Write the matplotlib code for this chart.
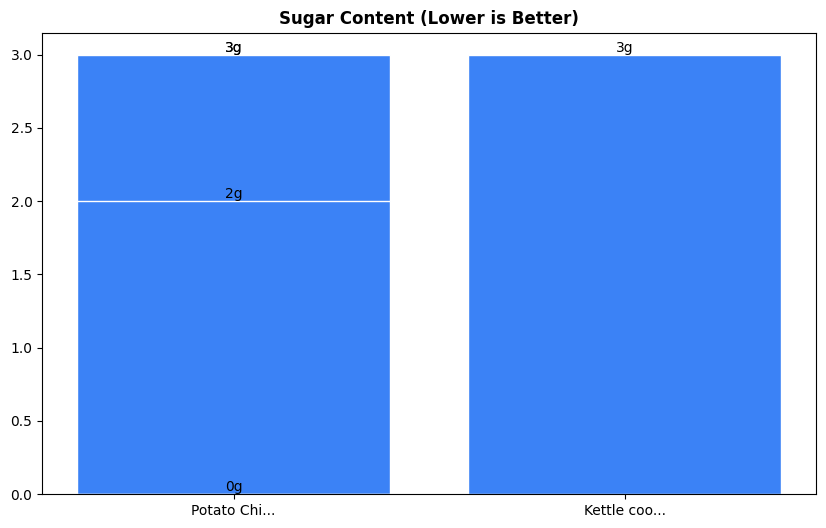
import matplotlib
matplotlib.use("Agg")
import matplotlib.pyplot as plt

categories = ["Potato Chi...", "Potato Chi...", "Potato Chi...", "Potato Chi...", "Kettle coo..."]
values = [3, 3, 2, 0, 3]
labels = ["3g", "3g", "2g", "0g", "3g"]

fig = plt.figure(figsize=(8.26, 5.28), dpi=100)
ax = fig.add_axes([0.051, 0.064, 0.937, 0.874])
bars = ax.bar(categories, values, color="#3b82f6", edgecolor="white", linewidth=1)
for b, lab in zip(bars, labels):
    ax.text(b.get_x() + b.get_width() / 2, b.get_height(), lab, ha="center", va="bottom", fontsize=10)
ax.set_title("Sugar Content (Lower is Better)", fontweight="bold", fontsize=12)
fig.savefig("out.png", dpi=100)
